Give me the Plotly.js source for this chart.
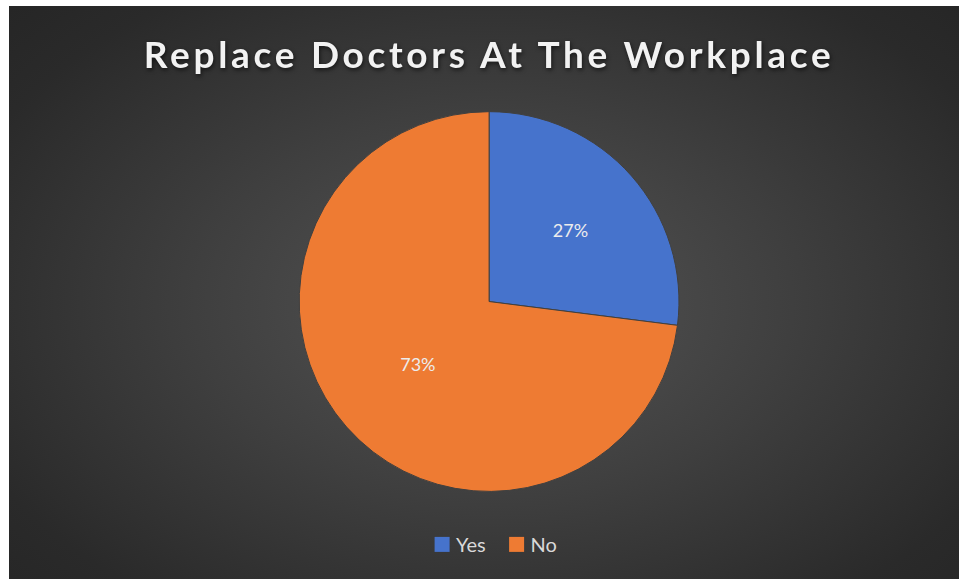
<!DOCTYPE html>
<html>
<head>
<meta charset="utf-8">
<script src="https://cdn.plot.ly/plotly-3.0.1.min.js"></script>
<style>
  html, body { margin: 0; padding: 0; background: #ffffff; }
  #wrap { position: relative; width: 959px; height: 581px; overflow: hidden; }
  #bg { position: absolute; left: 9px; top: 6px; width: 950px; height: 573px;
        background: radial-gradient(ellipse 70% 75% at 51% 52%, #555555 0%, #3f3f3f 45%, #2a2a2a 85%, #262626 100%); }
  #chart { position: absolute; left: 0; top: 0; width: 959px; height: 581px; }
  .gtitle { letter-spacing: 3.7px; filter: drop-shadow(1px 2px 2px rgba(0,0,0,0.6)); }
  .legendpoints .legendpie { transform: translate(26px, 0px) scale(1.25); stroke-width: 0 !important; }
</style>
</head>
<body>
<div id="wrap"><div id="bg"></div><div id="chart"></div></div>
<script>
const categories = ["Yes", "No"];
const values = [27, 73];
const colors = ["#4673CC", "#EE7B33"];
const titleText = "Replace Doctors At The Workplace";

const trace = {
  type: "pie",
  labels: categories,
  values: values,
  sort: false,
  direction: "clockwise",
  rotation: 0,
  marker: { colors: colors, line: { color: "#404040", width: 1 } },
  textinfo: "percent",
  texttemplate: "%{percent:.0%}",
  textposition: "inside",
  insidetextorientation: "horizontal",
  textfont: { family: "Lato, 'Open Sans', sans-serif", size: 18, color: "#ececec" },
  hoverinfo: "label+percent",
  domain: { x: [0.312, 0.708], y: [0.154, 0.808] }
};

const layout = {
  width: 959, height: 581,
  margin: { l: 0, r: 0, t: 0, b: 0 },
  paper_bgcolor: "rgba(0,0,0,0)",
  plot_bgcolor: "rgba(0,0,0,0)",
  title: {
    text: "<b>" + titleText + "</b>",
    x: 0.51, xanchor: "center",
    y: 0.905, yanchor: "middle",
    font: { family: "Lato, 'Open Sans', sans-serif", size: 37, color: "#f2f2f2" }
  },
  showlegend: true,
  legend: {
    orientation: "h",
    x: 0.51, xanchor: "center",
    y: 0.063, yanchor: "middle",
    font: { family: "Lato, 'Open Sans', sans-serif", size: 20, color: "#d9d9d9" },
    bgcolor: "rgba(0,0,0,0)",
    itemwidth: 30
  }
};

Plotly.newPlot("chart", [trace], layout, { displayModeBar: false, staticPlot: true });
</script>
</body>
</html>
